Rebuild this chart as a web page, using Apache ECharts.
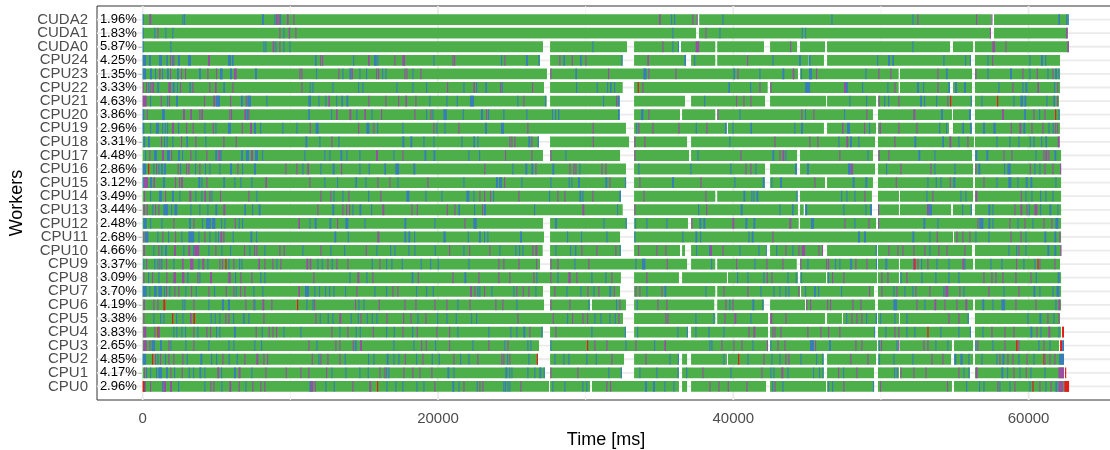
<!DOCTYPE html>
<html><head><meta charset="utf-8">
<script src="https://cdn.jsdelivr.net/npm/echarts@6/dist/echarts.min.js"></script>
<style>html,body{margin:0;padding:0;background:#fff}#c{width:1110px;height:450px}</style>
</head><body><div id="c"></div>
<script>
const workers = ['CPU0','CPU1','CPU2','CPU3','CPU4','CPU5','CPU6','CPU7','CPU8','CPU9','CPU10','CPU11','CPU12','CPU13','CPU14','CPU15','CPU16','CPU17','CPU18','CPU19','CPU20','CPU21','CPU22','CPU23','CPU24','CUDA0','CUDA1','CUDA2'];
const idlePercent = [2.96,4.17,4.85,2.65,3.83,3.38,4.19,3.70,3.09,3.37,4.66,2.68,2.48,3.44,3.49,3.12,2.86,4.48,3.31,2.96,3.86,4.63,3.33,1.35,4.25,5.87,1.83,1.96];
const xTicks = [0,20000,40000,60000];
const xMinor = [10000,30000,50000];

// busy periods [start, end] in ms (green)
const cuda2Busy = [[0,37560],[37690,57500],[57660,62720]];
const cuda1Busy = [[0,37480],[37680,57440],[57660,62650]];
const cuda0Busy = [[0,27110],[27590,32800],[33280,36320],[36460,38780],[38910,42080],[42490,44320],[44520,46210],[46350,54680],[54880,56240],[56370,62740]];
const cpu24Busy = [[0,26910],[27590,32510],[33280,36800],[37140,38780],[38910,45110],[45200,46140],[46350,56100],[56370,62130]];
const cpu23Busy = [[0,27380],[27590,44380],[44520,51200],[51290,56170],[56370,62130]];
const cpu22Busy = [[0,27180],[27590,32510],[33280,42330],[42490,51200],[51290,54680],[54880,56170],[56370,62130]];
const cpu21Busy = [[0,27360],[27590,32310],[33280,36730],[37140,42150],[42490,46280],[46350,49670],[49800,56170],[56370,62060]];
const cpu20Busy = [[0,32310],[33280,36390],[36530,38780],[38910,49460],[49800,54810],[54880,56100],[56370,62130]];
const cpu19Busy = [[0,32730],[33280,39550],[39640,46140],[46350,49670],[49800,54610],[54880,56170],[56370,62130]];
const cpu18Busy = [[0,26840],[27590,32940],[33280,36870],[37140,49600],[49800,56300],[56370,62100]];
const cpu17Busy = [[0,27110],[27590,32330],[33280,37000],[37140,44320],[44520,49460],[49800,56170],[56370,62200]];
const cpu16Busy = [[0,32730],[33280,42150],[42490,44320],[44520,49600],[49800,56240],[56370,62200]];
const cpu15Busy = [[0,32730],[33280,42130],[42490,46210],[46350,49460],[49800,56240],[56370,62200]];
const cpu14Busy = [[0,32390],[33280,38780],[38910,44360],[44520,49390],[49800,51220],[51290,56240],[56370,62200]];
const cpu13Busy = [[0,32510],[33280,44380],[44520,44770],[44860,49390],[49800,51220],[51290,54750],[54880,56170],[56370,62200]];
const cpu12Busy = [[0,27110],[27590,32800],[33280,36930],[37140,44430],[44520,49670],[49800,62200]];
const cpu11Busy = [[0,27180],[27590,32330],[33280,54880],[54950,62200]];
const cpu10Busy = [[0,27090],[27590,32390],[33280,36390],[36530,36730],[37140,42260],[42490,46080],[46350,49730],[49800,56170],[56370,62200]];
const cpu9Busy = [[0,26910],[27590,36870],[37140,38780],[38910,44300],[44520,49730],[49800,51220],[51290,56240],[56370,62130]];
const cpu8Busy = [[0,32390],[33280,36320],[36530,39570],[39640,44380],[44520,46280],[46350,49730],[49800,51220],[51290,62200]];
const cpu7Busy = [[0,27110],[27590,32330],[33280,38780],[38910,44520],[44590,49530],[49800,62200]];
const cpu6Busy = [[0,27180],[27590,30300],[30430,32730],[33280,38710],[38910,42080],[42490,44860],[44930,49600],[49800,56240],[56370,62200]];
const cpu5Busy = [[0,32530],[33280,38780],[38910,42350],[42490,46210],[46350,47360],[47430,49730],[49800,51220],[51290,55960],[56370,62130]];
const cpu4Busy = [[0,27110],[27590,32730],[33280,36930],[37140,42350],[42490,49600],[49800,56100],[56370,62200]];
const cpu3Busy = [[0,26840],[27590,42350],[42490,49730],[49800,51220],[51290,54810],[54950,56240],[56370,62060]];
const cpu2Busy = [[0,26770],[27590,32600],[33280,36320],[36530,36870],[37140,39570],[39640,46140],[46350,49670],[49800,54750],[54950,56240],[56370,62400]];
const cpu1Busy = [[0,27250],[27590,32460],[33280,36320],[36530,46140],[46350,49530],[49800,51220],[51290,56030],[56370,62400]];
const cpu0Busy = [[0,27520],[27590,30300],[30430,36320],[36530,36870],[37140,42220],[42490,46280],[46350,49530],[49800,54810],[54950,62740]];

// other tasks [start, duration, kind] kind: b=blue, p=purple, r=red
const cuda2Tasks = [[0,75,'b'],[449,130,'p'],[2685,75,'b'],[2797,75,'b'],[8081,130,'b'],[8916,75,'b'],[9030,75,'p'],[9120,75,'p'],[9210,75,'p'],[9300,75,'b'],[9775,110,'p'],[10204,75,'p'],[34971,110,'p'],[35784,75,'b'],[35987,75,'b'],[37229,75,'p'],[37522,75,'p'],[39261,75,'b'],[46642,75,'b'],[52128,75,'b'],[52467,75,'p'],[56441,75,'p'],[57480,75,'p'],[62018,110,'b'],[62538,75,'b'],[62640,75,'b']];
const cuda1Tasks = [[0,75,'b'],[788,75,'b'],[991,75,'p'],[1533,75,'b'],[2007,75,'b'],[9255,75,'p'],[9526,75,'b'],[9888,100,'p'],[10339,75,'p'],[35874,75,'b'],[38110,75,'p'],[39058,75,'b'],[44632,75,'b'],[44858,75,'b'],[57380,75,'p'],[62538,110,'p']];
const cuda0Tasks = [[0,75,'b'],[1872,75,'b'],[8172,75,'b'],[8307,75,'b'],[8804,110,'p'],[8984,75,'b'],[9255,75,'p'],[9526,75,'b'],[9933,75,'b'],[30455,75,'b'],[35197,75,'p'],[35874,75,'b'],[36250,75,'b'],[37455,230,'p'],[43845,75,'p'],[52128,75,'b'],[57547,180,'p'],[58428,75,'p'],[62628,110,'p']];
const cpu24Tasks = [[0,230,'b'],[427,130,'b'],[1104,200,'b'],[1601,110,'b'],[1849,75,'p'],[1985,75,'b'],[2075,75,'p'],[2391,130,'b'],[3069,200,'b'],[4423,130,'p'],[5778,200,'b'],[6049,110,'b'],[11671,110,'b'],[12010,75,'p'],[12146,75,'p'],[14246,75,'b'],[15262,110,'p'],[15668,180,'b'],[15894,75,'b'],[17046,75,'p'],[17588,180,'p'],[19687,75,'b'],[20974,75,'p'],[21087,75,'p'],[24268,75,'b'],[24494,75,'p'],[25961,130,'b'],[26800,90,'b'],[28219,75,'p'],[28490,110,'b'],[29055,75,'p'],[29619,110,'b'],[29980,75,'p'],[32420,75,'b'],[34181,110,'p'],[36687,110,'b'],[37342,75,'b'],[40932,75,'p'],[42648,75,'b'],[44455,130,'b'],[45129,110,'b'],[49735,75,'b'],[50480,130,'b'],[50774,110,'b'],[54228,75,'b'],[55696,75,'b'],[56020,75,'b'],[57209,75,'b'],[57525,75,'p'],[60054,75,'b'],[60844,130,'b'],[61115,75,'b']];
const cpu23Tasks = [[0,230,'b'],[494,130,'b'],[833,75,'b'],[1104,110,'p'],[1307,75,'b'],[1646,130,'b'],[1849,75,'p'],[2323,130,'b'],[2594,75,'p'],[2865,75,'p'],[3814,130,'b'],[4378,75,'p'],[4965,75,'p'],[5236,180,'b'],[5913,130,'b'],[6184,180,'p'],[7607,130,'b'],[10610,75,'p'],[10746,75,'p'],[11739,75,'b'],[13252,75,'p'],[13523,75,'b'],[13997,130,'b'],[14133,110,'p'],[14675,75,'b'],[15126,75,'b'],[15804,75,'p'],[15939,75,'p'],[16210,75,'b'],[16436,75,'b'],[17723,75,'p'],[17858,75,'p'],[18265,75,'b'],[18807,75,'p'],[27610,75,'p'],[29303,110,'b'],[31516,75,'p'],[33910,220,'b'],[34248,75,'p'],[36077,75,'p'],[40006,110,'b'],[40277,75,'p'],[41767,75,'b'],[43325,130,'b'],[44025,110,'p'],[44589,75,'b'],[45129,200,'b'],[45603,75,'p'],[48945,75,'b'],[49825,75,'p'],[50638,75,'p'],[53822,75,'p'],[54409,110,'b'],[56396,75,'p'],[57209,75,'b'],[58744,130,'b'],[59580,75,'p'],[60054,75,'b'],[60551,75,'p'],[61274,75,'b'],[61613,75,'p'],[61793,130,'b'],[62018,75,'b']];
const cpu22Tasks = [[0,75,'p'],[223,75,'p'],[382,75,'b'],[517,75,'p'],[652,110,'p'],[991,110,'b'],[1736,180,'p'],[2030,130,'b'],[2323,75,'b'],[2527,75,'p'],[3159,110,'b'],[3362,75,'p'],[4514,75,'p'],[4898,110,'p'],[5462,110,'b'],[6072,75,'p'],[10746,75,'p'],[11310,75,'b'],[11491,75,'b'],[12846,75,'b'],[14585,75,'b'],[14878,75,'b'],[17182,75,'b'],[18265,75,'b'],[19191,75,'b'],[20614,75,'p'],[21720,75,'b'],[22397,110,'p'],[22578,75,'b'],[23207,110,'b'],[24200,75,'p'],[24313,75,'b'],[26368,75,'p'],[29348,75,'b'],[30748,75,'b'],[31448,75,'b'],[31652,110,'b'],[31923,75,'b'],[33526,80,'r'],[33842,75,'p'],[39668,110,'b'],[41135,75,'b'],[41767,75,'p'],[42512,75,'p'],[44861,340,'b'],[47500,130,'p'],[47635,130,'b'],[48719,75,'b'],[50435,75,'b'],[50909,75,'p'],[52444,130,'b'],[52851,75,'b'],[53822,75,'p'],[54560,110,'b'],[55019,130,'b'],[55628,130,'b'],[57954,75,'b'],[58902,75,'p'],[59580,75,'b'],[59783,130,'b'],[60596,110,'p'],[61725,75,'b'],[61928,75,'p']];
const cpu21Tasks = [[0,270,'p'],[494,75,'b'],[1217,75,'p'],[1646,75,'b'],[1781,75,'p'],[2256,130,'b'],[4152,75,'p'],[4785,130,'p'],[4965,270,'b'],[5913,75,'p'],[6658,130,'b'],[6975,75,'p'],[7088,250,'b'],[8375,75,'b'],[11220,180,'b'],[11897,75,'b'],[12371,75,'b'],[12575,110,'p'],[13094,75,'b'],[13455,110,'b'],[13794,130,'b'],[15284,75,'p'],[16436,75,'p'],[17294,75,'p'],[17791,110,'p'],[18468,75,'p'],[19416,75,'b'],[20568,75,'b'],[21268,75,'b'],[22168,270,'b'],[25374,75,'b'],[25781,75,'p'],[27250,75,'b'],[31177,75,'b'],[32058,75,'p'],[32171,130,'b'],[38019,75,'b'],[40187,75,'p'],[40684,75,'p'],[41158,75,'p'],[47861,75,'b'],[48990,75,'b'],[49848,75,'p'],[50209,75,'b'],[50480,75,'b'],[51180,75,'p'],[52648,130,'b'],[52919,75,'b'],[53732,75,'b'],[54499,75,'p'],[54680,80,'r'],[56080,75,'b'],[56802,75,'b'],[57863,80,'r'],[58970,75,'b'],[59444,180,'b'],[59715,130,'b'],[61206,75,'b'],[61680,110,'b'],[61928,75,'p']];
const cpu20Tasks = [[0,110,'b'],[269,75,'p'],[1307,200,'b'],[2730,130,'p'],[3227,110,'p'],[3836,75,'p'],[3972,110,'p'],[5868,75,'p'],[5981,75,'p'],[6884,110,'p'],[7020,130,'b'],[7156,75,'p'],[11220,110,'b'],[12755,75,'b'],[13094,110,'p'],[13997,130,'p'],[14471,75,'b'],[15013,110,'p'],[15487,75,'b'],[16142,75,'p'],[18400,75,'p'],[19191,75,'b'],[19484,75,'p'],[19620,75,'b'],[20365,230,'b'],[21675,75,'b'],[22913,130,'b'],[23252,75,'p'],[23387,75,'b'],[24426,75,'b'],[25984,75,'b'],[27723,75,'b'],[27926,75,'b'],[28129,90,'b'],[32194,110,'b'],[33752,160,'b'],[34248,75,'p'],[38922,75,'p'],[40412,75,'b'],[44612,75,'p'],[44858,75,'b'],[45422,75,'p'],[47500,75,'b'],[49012,75,'p'],[52196,130,'p'],[54070,130,'b'],[55967,130,'b'],[58202,130,'p'],[59693,130,'b'],[60325,75,'p'],[60708,75,'b'],[61070,75,'p'],[61793,80,'r'],[62018,75,'b']];
const cpu19Tasks = [[0,110,'b'],[494,75,'b'],[901,200,'b'],[1307,75,'b'],[1488,75,'b'],[1646,75,'b'],[1985,130,'p'],[2391,75,'b'],[2933,75,'p'],[3385,75,'p'],[4175,75,'b'],[4740,75,'p'],[4920,75,'b'],[5778,200,'b'],[6703,75,'p'],[7268,130,'p'],[7539,130,'b'],[7946,75,'b'],[9458,75,'b'],[10407,75,'b'],[11310,75,'p'],[11717,200,'b'],[14585,75,'p'],[15149,200,'b'],[15623,75,'p'],[15871,75,'b'],[17587,75,'b'],[19687,75,'p'],[19890,75,'b'],[20432,75,'b'],[21381,75,'p'],[23184,130,'b'],[24268,200,'b'],[26052,75,'p'],[30477,75,'p'],[33413,75,'b'],[33571,75,'p'],[34519,75,'p'],[36280,75,'p'],[37454,75,'b'],[38177,75,'p'],[39442,110,'b'],[39938,75,'b'],[41157,110,'b'],[44126,75,'b'],[44589,130,'b'],[47364,90,'p'],[47703,200,'b'],[48855,75,'p'],[49193,75,'b'],[49893,110,'p'],[51180,75,'p'],[52399,75,'p'],[53935,75,'b'],[54409,75,'b'],[55515,110,'b'],[56035,110,'b'],[56915,130,'b'],[57615,160,'b'],[58789,75,'p'],[59376,130,'p'],[59647,130,'b'],[60189,75,'p'],[60934,75,'p'],[61341,75,'b'],[61634,75,'b'],[61793,75,'p'],[61928,75,'p']];
const cpu18Tasks = [[40,130,'b'],[359,130,'b'],[1240,75,'p'],[1443,75,'b'],[1623,75,'b'],[2007,75,'b'],[2594,75,'p'],[2956,110,'b'],[3565,75,'p'],[4243,75,'b'],[5462,75,'p'],[6297,75,'p'],[11017,130,'b'],[11965,75,'b'],[12778,75,'p'],[13252,75,'b'],[17588,130,'b'],[18130,130,'b'],[19010,75,'b'],[19687,75,'b'],[21584,75,'b'],[22397,110,'b'],[22668,75,'b'],[24832,75,'p'],[24968,75,'p'],[25171,75,'p'],[26120,130,'b'],[26323,75,'p'],[26752,90,'b'],[30477,75,'p'],[33300,75,'p'],[33977,75,'p'],[39735,75,'b'],[42783,75,'p'],[45151,75,'p'],[45693,75,'p'],[47116,75,'b'],[47658,130,'p'],[47906,130,'b'],[48471,75,'b'],[50909,75,'p'],[52264,130,'b'],[54160,110,'b'],[54635,130,'p'],[55244,75,'b'],[55854,75,'p'],[57818,75,'b'],[58699,75,'b'],[59308,75,'b'],[60076,75,'b'],[60325,75,'b'],[60844,75,'b'],[61138,110,'b'],[61974,130,'p']];
const cpu17Tasks = [[156,75,'b'],[449,75,'p'],[765,200,'b'],[1307,130,'p'],[1646,200,'b'],[1917,75,'p'],[2391,130,'b'],[2662,75,'b'],[3227,75,'p'],[3565,75,'b'],[4310,75,'p'],[4920,130,'b'],[5123,130,'p'],[5259,90,'b'],[6658,130,'b'],[6997,200,'b'],[7336,130,'p'],[7607,200,'b'],[8081,75,'b'],[10949,75,'b'],[12303,75,'b'],[12642,75,'b'],[13387,130,'b'],[13794,75,'b'],[14675,75,'b'],[15804,130,'p'],[16978,75,'b'],[17588,75,'p'],[19078,130,'b'],[19687,130,'b'],[22058,75,'b'],[22778,75,'b'],[24539,75,'p'],[26323,75,'p'],[27610,75,'p'],[28626,75,'b'],[33300,75,'p'],[37568,75,'b'],[40480,75,'p'],[42648,130,'b'],[43122,75,'p'],[43325,130,'p'],[43528,75,'b'],[47183,75,'p'],[49080,75,'b'],[49848,75,'p'],[50503,75,'p'],[52535,130,'b'],[53619,75,'b'],[56396,130,'b'],[57141,130,'b'],[58293,75,'p'],[58834,75,'p'],[60460,75,'b'],[61002,75,'p'],[61138,130,'p'],[61341,75,'p'],[61747,130,'b']];
const cpu16Tasks = [[0,230,'b'],[359,80,'r'],[720,75,'b'],[901,75,'p'],[1059,75,'b'],[1240,130,'b'],[1443,130,'b'],[2369,75,'p'],[2527,75,'b'],[2933,75,'p'],[3091,75,'p'],[3543,75,'b'],[3836,75,'p'],[4220,75,'b'],[4514,75,'b'],[5191,75,'b'],[5913,130,'b'],[6410,75,'p'],[6726,75,'b'],[7539,130,'b'],[9662,75,'p'],[10407,75,'p'],[10813,75,'b'],[11152,110,'p'],[12032,75,'b'],[12868,130,'b'],[13433,75,'p'],[14675,75,'b'],[15307,75,'b'],[16368,110,'b'],[17113,250,'b'],[18333,130,'b'],[23139,75,'p'],[25036,75,'b'],[25916,130,'b'],[26323,130,'b'],[26594,75,'p'],[27745,130,'b'],[28897,75,'p'],[29168,75,'p'],[29303,75,'p'],[29574,75,'b'],[31064,75,'p'],[31335,75,'p'],[33571,75,'b'],[37093,75,'b'],[39803,75,'b'],[40819,75,'p'],[41158,75,'p'],[41496,75,'b'],[44183,130,'b'],[44993,130,'b'],[47771,180,'b'],[47951,160,'p'],[50345,75,'b'],[51316,75,'p'],[53348,75,'p'],[53619,75,'b'],[54974,75,'b'],[56396,75,'p'],[56599,130,'b'],[58338,75,'b'],[58564,230,'b'],[60076,75,'p'],[60393,75,'b'],[60731,75,'b'],[61070,75,'p'],[61612,75,'p'],[62131,75,'p']];
const cpu15Tasks = [[0,75,'b'],[88,270,'p'],[494,130,'b'],[720,110,'p'],[1375,130,'b'],[2188,75,'p'],[2459,75,'p'],[2594,130,'p'],[3769,130,'b'],[3972,75,'b'],[4310,75,'p'],[5462,110,'b'],[6207,75,'b'],[6613,75,'b'],[7358,75,'b'],[8307,110,'p'],[11288,75,'p'],[12303,75,'b'],[13161,75,'b'],[14404,110,'b'],[15081,75,'b'],[15894,75,'p'],[16707,75,'p'],[17249,75,'b'],[19281,75,'p'],[21720,75,'b'],[23929,130,'b'],[24132,200,'b'],[24471,75,'p'],[25645,75,'b'],[27610,75,'b'],[28852,75,'b'],[29032,75,'b'],[29484,130,'b'],[31335,130,'b'],[31606,75,'p'],[32667,75,'b'],[33639,75,'p'],[35851,130,'b'],[37771,75,'p'],[40074,75,'b'],[41993,130,'b'],[42580,75,'b'],[43167,130,'b'],[45490,75,'p'],[48087,130,'b'],[48945,130,'b'],[51000,75,'p'],[53145,75,'b'],[53709,75,'b'],[54025,75,'b'],[54657,75,'p'],[54906,130,'b'],[56938,75,'p'],[57818,75,'b'],[58631,200,'b'],[59241,75,'b'],[59806,130,'b'],[60122,130,'b'],[61815,75,'b']];
const cpu14Tasks = [[88,75,'p'],[494,75,'b'],[1104,200,'b'],[1510,75,'p'],[1985,130,'b'],[2481,75,'b'],[3159,130,'p'],[3565,75,'b'],[3972,75,'b'],[4175,110,'p'],[4514,75,'p'],[4649,75,'b'],[5236,75,'p'],[7156,75,'p'],[7697,75,'b'],[12032,75,'p'],[12710,75,'p'],[12913,75,'b'],[13523,75,'b'],[13930,75,'p'],[15262,75,'b'],[16097,75,'p'],[17858,200,'b'],[19145,75,'b'],[20229,75,'b'],[21923,200,'b'],[22397,75,'b'],[22803,75,'p'],[23116,75,'p'],[23523,75,'p'],[23726,75,'b'],[25442,75,'p'],[27519,75,'b'],[28083,75,'p'],[28558,75,'p'],[29574,130,'b'],[29777,75,'b'],[30455,75,'p'],[32284,110,'b'],[33910,75,'p'],[38110,75,'p'],[40684,130,'b'],[41225,75,'b'],[41361,75,'b'],[41564,130,'b'],[44280,75,'b'],[47296,75,'b'],[47658,75,'b'],[48199,75,'b'],[48877,75,'p'],[53077,75,'b'],[53483,75,'p'],[55380,75,'b'],[55718,75,'b'],[56396,130,'p'],[59466,75,'p'],[59783,75,'b'],[60189,75,'b'],[60776,75,'b'],[61138,75,'b'],[61612,75,'b']];
const cpu13Tasks = [[43,110,'p'],[269,75,'p'],[652,75,'b'],[833,75,'p'],[1059,75,'p'],[1398,320,'b'],[1917,75,'b'],[2143,200,'b'],[3227,75,'b'],[3836,75,'b'],[4378,75,'b'],[4920,130,'b'],[5462,130,'p'],[6884,110,'b'],[7404,75,'b'],[7855,130,'b'],[11829,75,'p'],[12846,130,'b'],[13523,75,'p'],[13772,75,'p'],[13975,75,'p'],[14201,75,'b'],[14675,130,'b'],[15465,75,'b'],[16233,130,'p'],[18197,75,'p'],[18558,75,'p'],[20591,75,'p'],[21110,75,'p'],[21381,110,'b'],[22439,75,'b'],[22981,75,'p'],[23116,130,'b'],[26503,75,'b'],[29777,130,'p'],[32126,75,'b'],[33300,75,'p'],[37613,75,'b'],[38155,75,'p'],[40503,130,'b'],[43122,75,'b'],[43980,110,'b'],[44870,130,'b'],[47454,75,'b'],[48945,75,'b'],[49261,130,'b'],[49803,75,'p'],[53122,130,'p'],[53257,200,'b'],[55493,75,'b'],[56080,75,'b'],[57277,130,'b'],[57548,75,'b'],[59038,75,'p'],[59444,130,'p'],[59851,75,'p'],[60009,75,'b'],[60393,200,'p'],[60776,75,'b'],[61409,130,'b'],[61951,75,'b']];
const cpu12Tasks = [[43,230,'b'],[494,75,'b'],[1262,75,'b'],[2075,75,'p'],[3136,130,'b'],[3430,75,'p'],[4017,75,'b'],[4288,330,'b'],[4694,230,'b'],[5304,75,'b'],[5530,75,'b'],[6230,75,'p'],[6500,75,'b'],[6726,75,'b'],[10543,110,'p'],[11288,75,'b'],[11649,130,'b'],[12642,130,'b'],[13161,75,'p'],[13726,200,'b'],[15013,75,'b'],[17723,130,'b'],[19755,75,'b'],[21787,75,'p'],[22394,230,'b'],[27926,130,'b'],[31200,75,'b'],[32700,75,'b'],[33345,75,'b'],[34113,75,'b'],[35468,75,'b'],[37161,75,'p'],[37703,130,'b'],[37974,130,'b'],[39938,130,'p'],[40819,130,'b'],[41361,130,'b'],[43799,130,'p'],[45264,200,'b'],[47522,75,'p'],[48199,75,'b'],[49148,75,'p'],[49803,75,'p'],[52874,130,'b'],[53822,75,'b'],[56531,75,'p'],[56667,270,'b'],[57277,130,'b'],[57548,75,'b'],[58699,75,'p'],[59241,75,'b'],[59715,75,'p'],[60257,75,'b'],[61002,75,'p'],[61544,75,'p'],[61815,200,'b']];
const cpu11Tasks = [[43,75,'p'],[156,230,'b'],[991,75,'b'],[1330,75,'p'],[1714,75,'b'],[2188,75,'p'],[2617,75,'b'],[3091,400,'b'],[3769,75,'b'],[4175,75,'p'],[4514,75,'b'],[4920,75,'b'],[5101,75,'b'],[5259,130,'p'],[5462,75,'p'],[6094,75,'b'],[7291,130,'b'],[7675,75,'b'],[12981,130,'b'],[13884,75,'b'],[15894,130,'p'],[17723,130,'b'],[17994,130,'b'],[18378,75,'b'],[20365,160,'b'],[22013,75,'b'],[22778,130,'b'],[23116,75,'b'],[23342,75,'b'],[25555,130,'b'],[28739,75,'b'],[29687,75,'b'],[31403,75,'b'],[33300,75,'b'],[36551,75,'b'],[37432,130,'b'],[37748,75,'b'],[41022,75,'b'],[41248,130,'b'],[42648,75,'p'],[48448,130,'b'],[48855,130,'b'],[52128,130,'b'],[53280,75,'b'],[53777,75,'p'],[55109,75,'p'],[55515,75,'p'],[55989,75,'p'],[56396,75,'b'],[57277,75,'b'],[58767,75,'p'],[59444,75,'p'],[59783,75,'b'],[61070,130,'b'],[61747,130,'b'],[62086,75,'p']];
const cpu10Tasks = [[43,110,'p'],[720,75,'b'],[1059,75,'p'],[1262,75,'b'],[1510,130,'b'],[2120,130,'p'],[2752,75,'b'],[3091,130,'p'],[3407,75,'b'],[3497,330,'p'],[4446,75,'b'],[4920,75,'p'],[5327,75,'b'],[5913,75,'b'],[6861,75,'p'],[7223,75,'b'],[7539,75,'p'],[7697,75,'p'],[8239,75,'b'],[9255,75,'p'],[9549,75,'p'],[10813,75,'b'],[12032,75,'p'],[12710,75,'b'],[13636,75,'b'],[15104,75,'p'],[15826,75,'b'],[16752,75,'b'],[17046,75,'b'],[17994,75,'b'],[18400,75,'b'],[19777,75,'b'],[20749,75,'p'],[21720,75,'b'],[22104,75,'p'],[23478,75,'p'],[24155,75,'b'],[25239,75,'b'],[25487,75,'b'],[25713,75,'b'],[26390,75,'p'],[26594,130,'p'],[27948,75,'b'],[28942,75,'b'],[29281,90,'b'],[29710,75,'p'],[30726,75,'p'],[32013,75,'p'],[32300,75,'b'],[33548,75,'p'],[34790,75,'p'],[35400,75,'p'],[37477,75,'b'],[38358,75,'b'],[38426,130,'p'],[39261,75,'p'],[40412,75,'b'],[41699,75,'b'],[42200,60,'b'],[42896,75,'b'],[43528,75,'p'],[44002,75,'b'],[44409,75,'p'],[44632,230,'p'],[45761,75,'p'],[46000,75,'p'],[49640,75,'b'],[50503,75,'p'],[51113,75,'p'],[51452,75,'p'],[52196,75,'p'],[52941,75,'p'],[53280,75,'b'],[53890,75,'p'],[54432,75,'p'],[55651,75,'p'],[58631,75,'b'],[59150,75,'b'],[59308,75,'p'],[59783,75,'b'],[61273,130,'b'],[61747,130,'b'],[62154,75,'p']];
const cpu9Tasks = [[43,75,'b'],[223,75,'p'],[788,75,'b'],[991,75,'b'],[1127,75,'p'],[1262,75,'b'],[1578,75,'p'],[2075,75,'b'],[2662,110,'p'],[3204,230,'p'],[3769,75,'b'],[4039,130,'p'],[4378,75,'b'],[5191,75,'p'],[5372,75,'p'],[5598,80,'r'],[5801,75,'b'],[6139,75,'p'],[6523,75,'b'],[6681,75,'b'],[7833,110,'p'],[8239,75,'p'],[8781,75,'p'],[9052,75,'b'],[9323,75,'p'],[11084,130,'p'],[11310,110,'p'],[11829,75,'b'],[12123,75,'b'],[12507,75,'p'],[12800,75,'b'],[13116,75,'p'],[13862,75,'p'],[15510,75,'b'],[16029,75,'p'],[16481,75,'b'],[16842,75,'b'],[17543,75,'b'],[18829,75,'b'],[19461,75,'b'],[19981,75,'b'],[22058,75,'b'],[24087,75,'p'],[24426,75,'p'],[25442,75,'p'],[26639,75,'p'],[27610,75,'p'],[28084,75,'p'],[29236,75,'b'],[30184,75,'p'],[33368,75,'b'],[33820,230,'b'],[35490,75,'p'],[38493,75,'b'],[40187,75,'p'],[41428,75,'b'],[42241,75,'p'],[43325,75,'p'],[44540,75,'p'],[45016,75,'b'],[46280,75,'p'],[46416,75,'p'],[46890,75,'b'],[47183,75,'b'],[47906,130,'b'],[48267,75,'p'],[49012,75,'p'],[49660,75,'b'],[50299,130,'b'],[52173,160,'p'],[52264,80,'r'],[52467,75,'p'],[52715,75,'b'],[53145,75,'p'],[53754,75,'b'],[54567,75,'b'],[55515,130,'p'],[55651,75,'b'],[57412,75,'b'],[58157,75,'b'],[59150,75,'p'],[59647,75,'b'],[60393,75,'b'],[60596,80,'r'],[60731,75,'p'],[61747,75,'p']];
const cpu8Tasks = [[43,75,'p'],[359,75,'b'],[630,75,'p'],[1059,75,'b'],[1601,75,'p'],[2075,180,'p'],[2662,160,'p'],[3024,75,'b'],[3701,75,'p'],[3836,75,'b'],[4559,130,'p'],[5801,160,'p'],[6252,75,'b'],[6613,75,'p'],[7358,75,'p'],[7968,75,'b'],[8239,75,'b'],[11558,75,'p'],[13997,75,'b'],[14539,130,'p'],[15149,75,'b'],[15555,75,'p'],[18220,110,'b'],[18626,75,'p'],[20975,75,'p'],[21787,130,'b'],[22736,75,'p'],[24087,75,'p'],[24832,75,'p'],[26458,75,'p'],[26661,75,'b'],[27610,75,'p'],[28084,75,'b'],[28829,160,'p'],[29371,75,'p'],[30387,75,'b'],[31335,75,'b'],[31742,75,'p'],[34113,75,'p'],[40254,75,'b'],[40954,75,'b'],[42038,75,'b'],[42264,75,'p'],[42580,75,'p'],[43664,75,'b'],[44229,75,'b'],[44587,75,'b'],[46416,75,'b'],[46687,75,'p'],[47454,75,'p'],[50029,75,'p'],[50435,75,'p'],[51330,75,'b'],[51722,75,'p'],[52738,75,'b'],[53686,75,'b'],[54567,75,'b'],[55244,75,'b'],[56938,75,'p'],[57480,75,'p'],[57751,75,'p'],[58225,75,'p'],[59105,75,'p'],[60122,75,'p'],[60483,75,'b'],[61973,130,'b']];
const cpu7Tasks = [[0,270,'b'],[449,75,'b'],[765,180,'b'],[1059,250,'b'],[1443,75,'b'],[1578,75,'p'],[1804,75,'b'],[2143,75,'p'],[2414,75,'p'],[2888,75,'b'],[3272,75,'p'],[3588,75,'b'],[4446,75,'p'],[4830,75,'b'],[5620,75,'p'],[6139,75,'p'],[6297,75,'b'],[6591,75,'p'],[6884,75,'p'],[7494,75,'b'],[8104,75,'b'],[10543,110,'p'],[10994,270,'b'],[11626,75,'b'],[11942,75,'b'],[12349,75,'b'],[12620,75,'b'],[12913,75,'b'],[13704,75,'b'],[14471,75,'p'],[15691,75,'b'],[16481,75,'b'],[16910,75,'p'],[17249,75,'p'],[18513,75,'b'],[19191,75,'b'],[19642,75,'b'],[22171,130,'p'],[22465,75,'p'],[22665,75,'b'],[22800,75,'b'],[23116,75,'p'],[23613,75,'b'],[25103,75,'b'],[25306,75,'p'],[25736,75,'p'],[26120,75,'p'],[26594,75,'b'],[27881,75,'p'],[28694,75,'b'],[29642,75,'b'],[30116,75,'p'],[30523,75,'b'],[30861,75,'p'],[31606,130,'b'],[31900,75,'p'],[33368,75,'p'],[33639,75,'p'],[34113,75,'b'],[35129,75,'p'],[35332,130,'b'],[38109,75,'b'],[39329,75,'p'],[40954,75,'p'],[41835,75,'b'],[42716,75,'b'],[43122,75,'b'],[43528,75,'b'],[43732,75,'b'],[44400,75,'p'],[44858,75,'b'],[45467,130,'b'],[45738,75,'b'],[47296,75,'b'],[49193,75,'p'],[50029,75,'p'],[50841,75,'b'],[51045,75,'p'],[51587,75,'b'],[52128,75,'b'],[52331,75,'p'],[53280,75,'p'],[54228,75,'b'],[54364,200,'p'],[55312,75,'p'],[55583,75,'b'],[57277,75,'p'],[58293,75,'b'],[59308,75,'p'],[60325,130,'b'],[60731,75,'b'],[61612,75,'b'],[61883,200,'b']];
const cpu6Tasks = [[43,110,'p'],[720,75,'p'],[991,75,'p'],[1398,130,'r'],[2685,75,'b'],[2820,75,'b'],[3430,75,'p'],[4446,75,'b'],[5372,130,'b'],[5778,130,'b'],[6952,75,'p'],[7494,75,'p'],[7562,75,'b'],[8104,130,'p'],[8713,75,'p'],[10452,80,'r'],[11084,75,'b'],[11491,75,'b'],[11604,75,'p'],[14381,75,'p'],[14607,75,'b'],[14946,75,'b'],[15984,75,'p'],[17723,75,'p'],[18468,75,'p'],[19755,75,'p'],[20568,75,'p'],[21313,75,'b'],[22126,75,'p'],[23884,75,'p'],[24358,75,'p'],[25307,75,'b'],[27610,75,'p'],[28897,75,'p'],[30184,75,'b'],[32058,75,'b'],[32284,75,'p'],[33458,75,'b'],[34858,75,'p'],[35468,75,'p'],[39464,75,'p'],[39735,75,'b'],[39938,75,'p'],[41293,130,'b'],[41948,75,'b'],[44940,75,'p'],[45196,75,'p'],[46348,75,'p'],[46551,75,'p'],[48064,75,'p'],[48606,75,'p'],[50841,250,'b'],[52399,75,'p'],[52941,75,'b'],[53619,130,'p'],[54296,75,'p'],[55109,75,'p'],[55718,130,'p'],[56870,130,'b'],[57548,75,'b'],[58157,250,'b'],[59105,75,'p'],[60460,75,'p'],[61815,75,'b'],[62018,130,'p']];
const cpu5Tasks = [[43,75,'p'],[720,75,'b'],[1172,75,'b'],[1398,75,'b'],[1985,80,'r'],[2256,75,'b'],[2685,75,'b'],[3204,110,'p'],[3430,110,'r'],[4604,75,'b'],[4875,75,'b'],[5191,75,'b'],[5598,75,'p'],[5801,75,'p'],[6117,75,'b'],[6794,110,'b'],[7156,75,'b'],[8172,75,'p'],[11694,75,'p'],[11988,75,'b'],[12529,75,'b'],[12846,75,'b'],[13320,130,'p'],[14088,75,'b'],[14562,75,'b'],[14743,75,'p'],[15172,75,'b'],[15510,75,'b'],[15826,75,'b'],[16504,75,'p'],[17633,75,'p'],[18130,75,'p'],[18603,75,'b'],[19145,75,'p'],[19935,75,'b'],[20568,75,'b'],[21200,75,'b'],[22239,75,'b'],[22574,75,'b'],[25374,75,'p'],[27768,75,'p'],[28739,75,'b'],[29077,75,'p'],[29777,75,'p'],[30093,75,'p'],[30590,75,'b'],[30997,75,'b'],[31606,75,'b'],[31968,75,'b'],[32216,75,'p'],[35400,75,'p'],[35535,75,'p'],[37432,75,'b'],[38650,75,'b'],[39396,75,'p'],[40074,130,'p'],[41158,75,'b'],[42513,130,'p'],[43528,75,'p'],[47635,75,'b'],[47996,75,'p'],[48335,75,'p'],[48674,75,'p'],[48990,75,'b'],[49640,90,'b'],[49938,75,'b'],[50910,75,'b'],[51722,75,'b'],[54567,75,'p'],[55244,75,'p'],[55870,75,'b'],[59919,75,'b'],[60731,130,'b'],[61273,75,'p'],[61680,75,'b'],[62018,75,'p']];
const cpu4Tasks = [[43,200,'p'],[788,75,'p'],[991,80,'r'],[1059,110,'p'],[2075,75,'b'],[2278,75,'b'],[2617,75,'b'],[2865,75,'b'],[3430,75,'p'],[3701,75,'b'],[4310,75,'p'],[4559,75,'p'],[4965,75,'b'],[5191,75,'b'],[6184,130,'b'],[7652,75,'p'],[8059,75,'b'],[8533,75,'p'],[8781,75,'p'],[9030,75,'p'],[9526,75,'b'],[10678,75,'b'],[12778,75,'p'],[13320,75,'b'],[13862,75,'p'],[14426,75,'b'],[14697,75,'b'],[15578,75,'p'],[16481,75,'b'],[17000,75,'b'],[17588,75,'p'],[18242,75,'b'],[18558,75,'p'],[19890,75,'p'],[20749,75,'p'],[21313,75,'b'],[23410,75,'b'],[24900,75,'b'],[25307,75,'b'],[25781,130,'b'],[26187,75,'p'],[27000,75,'b'],[27948,75,'p'],[30387,75,'b'],[32650,75,'b'],[33480,75,'b'],[36213,75,'b'],[36850,75,'b'],[37432,75,'b'],[38313,75,'b'],[39329,75,'b'],[41022,75,'p'],[41361,130,'p'],[42648,75,'p'],[42784,75,'p'],[43190,75,'p'],[45016,75,'p'],[45896,75,'p'],[46416,75,'p'],[47183,75,'p'],[49532,75,'b'],[50299,75,'b'],[50909,75,'p'],[51180,75,'p'],[51722,75,'b'],[52264,75,'b'],[53145,80,'r'],[54025,75,'b'],[55244,75,'b'],[56020,75,'b'],[56870,75,'b'],[57480,75,'p'],[58361,75,'p'],[58970,75,'p'],[60122,130,'b'],[60528,75,'p'],[60799,75,'b'],[61341,130,'p'],[62018,75,'b'],[62265,135,'r']];
const cpu3Tasks = [[43,230,'p'],[449,75,'p'],[607,230,'b'],[1172,130,'b'],[1736,75,'p'],[1872,75,'b'],[2888,75,'b'],[3430,75,'p'],[4446,75,'b'],[5801,75,'b'],[6139,75,'b'],[7562,75,'b'],[8013,75,'b'],[11220,75,'p'],[11762,75,'b'],[13049,75,'p'],[13320,75,'p'],[14223,75,'p'],[14359,130,'b'],[14720,130,'p'],[16978,75,'b'],[18333,75,'b'],[18852,75,'p'],[19168,75,'p'],[19800,75,'b'],[20749,75,'p'],[22329,75,'b'],[23410,75,'p'],[24494,75,'b'],[24697,75,'p'],[26052,75,'b'],[26255,75,'b'],[27610,75,'b'],[30093,80,'r'],[30590,75,'p'],[31403,75,'p'],[32690,75,'b'],[33368,75,'p'],[34632,75,'b'],[35332,110,'p'],[38380,75,'b'],[38516,75,'b'],[39193,75,'p'],[40006,75,'p'],[40548,75,'p'],[41293,75,'b'],[42280,75,'p'],[42512,75,'b'],[42986,75,'p'],[43461,75,'p'],[45196,270,'b'],[45535,75,'p'],[46483,130,'b'],[48267,75,'p'],[48674,75,'p'],[49870,75,'b'],[50006,75,'p'],[51045,75,'b'],[51180,75,'p'],[52874,75,'p'],[53145,75,'p'],[53686,75,'b'],[54499,75,'b'],[56396,75,'b'],[56531,75,'p'],[57548,75,'b'],[58361,75,'p'],[59150,100,'r'],[59308,75,'p'],[60663,75,'b'],[61002,75,'p'],[61409,75,'b'],[62131,134,'r'],[62265,135,'b']];
const cpu2Tasks = [[0,230,'b'],[630,80,'r'],[833,75,'p'],[991,75,'b'],[1172,75,'p'],[1510,75,'b'],[1736,75,'p'],[2075,75,'p'],[2685,75,'p'],[2978,75,'b'],[3904,130,'b'],[4627,75,'b'],[4965,75,'b'],[5394,75,'p'],[5823,75,'b'],[6365,75,'b'],[6884,75,'p'],[7697,130,'p'],[8172,75,'p'],[8420,75,'p'],[11446,75,'p'],[11897,75,'b'],[12032,75,'p'],[12507,75,'p'],[13320,75,'p'],[13681,75,'b'],[15262,75,'b'],[15623,75,'b'],[16526,130,'b'],[16978,75,'b'],[17316,75,'b'],[17746,75,'p'],[18513,75,'b'],[18942,75,'p'],[19575,75,'b'],[20049,75,'b'],[21042,75,'p'],[21494,75,'b'],[22058,75,'b'],[22665,75,'p'],[24290,75,'p'],[24426,75,'p'],[24674,75,'b'],[24832,75,'p'],[26120,75,'b'],[26690,80,'r'],[27881,75,'b'],[28490,75,'b'],[28829,75,'b'],[30048,75,'b'],[30680,75,'b'],[31742,75,'p'],[34045,75,'p'],[35671,75,'b'],[36240,75,'b'],[39329,75,'b'],[40322,80,'r'],[40954,75,'b'],[42038,75,'p'],[42580,75,'b'],[43122,75,'b'],[43528,75,'p'],[43732,75,'p'],[44544,75,'b'],[45603,75,'b'],[46009,75,'b'],[47928,75,'p'],[49080,75,'p'],[49870,75,'b'],[50841,75,'b'],[52128,75,'b'],[53415,75,'p'],[54160,75,'p'],[54974,130,'b'],[55380,160,'b'],[55922,75,'b'],[56802,75,'b'],[57818,75,'b'],[58022,75,'p'],[58225,130,'b'],[58564,75,'p'],[58902,75,'p'],[59308,75,'b'],[59851,75,'p'],[60325,75,'b'],[61002,80,'r'],[61070,75,'p'],[61409,75,'p'],[61747,75,'p'],[62063,337,'b']];
const cpu1Tasks = [[88,75,'p'],[223,75,'b'],[494,75,'b'],[901,75,'b'],[1059,250,'b'],[1578,130,'b'],[1872,75,'p'],[2120,75,'b'],[2640,75,'p'],[3114,75,'b'],[3407,75,'b'],[3836,130,'b'],[4175,75,'b'],[5056,130,'p'],[5304,75,'b'],[6184,130,'b'],[6500,130,'p'],[7358,75,'b'],[8307,75,'p'],[9684,75,'p'],[10678,75,'p'],[11220,75,'p'],[12417,75,'p'],[12778,75,'b'],[13726,75,'b'],[14675,75,'b'],[15239,75,'b'],[16029,75,'p'],[16368,75,'p'],[16481,75,'b'],[16639,75,'b'],[17655,75,'p'],[18265,75,'p'],[18739,75,'p'],[19552,75,'p'],[20636,130,'b'],[21042,75,'b'],[24561,130,'b'],[24810,75,'b'],[24968,75,'b'],[26052,75,'b'],[26526,75,'b'],[26865,130,'b'],[27150,75,'b'],[27610,75,'p'],[29439,75,'p'],[31538,75,'b'],[32380,75,'b'],[33639,75,'b'],[34790,75,'b'],[36220,75,'b'],[36800,75,'b'],[37906,75,'p'],[39803,75,'b'],[41903,75,'p'],[42513,75,'b'],[42716,75,'b'],[43257,130,'p'],[43664,75,'b'],[45400,75,'b'],[45806,75,'b'],[46030,75,'b'],[47093,75,'p'],[47432,75,'b'],[48335,75,'p'],[50886,75,'b'],[51067,75,'b'],[51316,75,'p'],[52196,75,'p'],[53009,75,'p'],[55244,75,'p'],[55583,75,'b'],[55922,75,'b'],[56418,130,'p'],[58157,130,'b'],[58541,75,'b'],[58970,75,'p'],[59376,75,'b'],[59806,75,'p'],[60122,75,'b'],[61070,75,'b'],[62018,380,'p'],[62469,80,'r']];
const cpu0Tasks = [[0,180,'r'],[133,75,'b'],[494,75,'p'],[1307,75,'b'],[1398,180,'p'],[1849,130,'p'],[2391,75,'b'],[4175,75,'b'],[4581,75,'p'],[4785,75,'p'],[5327,75,'b'],[5868,130,'p'],[6500,75,'p'],[6952,75,'b'],[7426,75,'p'],[7968,75,'p'],[8239,75,'p'],[11288,110,'b'],[11378,180,'p'],[11649,75,'p'],[12371,75,'b'],[12935,75,'b'],[14201,75,'p'],[15352,130,'p'],[15871,80,'r'],[16504,75,'b'],[17113,75,'b'],[17588,75,'b'],[18536,75,'b'],[19010,75,'b'],[19755,75,'p'],[20974,130,'b'],[21381,75,'b'],[21720,75,'p'],[22623,75,'b'],[22800,75,'p'],[23003,75,'p'],[24426,75,'b'],[24539,75,'b'],[24697,75,'b'],[24832,75,'b'],[25577,75,'p'],[27745,75,'b'],[28558,75,'b'],[29777,75,'b'],[30048,75,'b'],[31403,75,'p'],[31652,75,'p'],[34022,130,'b'],[34564,130,'b'],[35332,75,'b'],[35942,75,'b'],[38380,75,'p'],[38990,75,'p'],[39622,75,'p'],[40887,75,'p'],[42625,75,'b'],[42784,75,'p'],[43325,75,'b'],[46416,75,'b'],[46687,75,'b'],[47454,75,'p'],[49464,75,'b'],[49938,75,'p'],[54477,75,'p'],[55764,75,'b'],[56645,75,'b'],[56938,75,'b'],[57886,75,'p'],[58022,75,'b'],[58699,75,'b'],[59038,75,'p'],[60054,75,'b'],[60257,80,'r'],[60731,75,'p'],[61138,75,'b'],[61477,75,'p'],[61815,130,'b'],[62018,330,'p'],[62424,316,'r']];

const rowBusy = [cpu0Busy,cpu1Busy,cpu2Busy,cpu3Busy,cpu4Busy,cpu5Busy,cpu6Busy,cpu7Busy,cpu8Busy,cpu9Busy,cpu10Busy,cpu11Busy,cpu12Busy,cpu13Busy,cpu14Busy,cpu15Busy,cpu16Busy,cpu17Busy,cpu18Busy,cpu19Busy,cpu20Busy,cpu21Busy,cpu22Busy,cpu23Busy,cpu24Busy,cuda0Busy,cuda1Busy,cuda2Busy];
const rowTasks = [cpu0Tasks,cpu1Tasks,cpu2Tasks,cpu3Tasks,cpu4Tasks,cpu5Tasks,cpu6Tasks,cpu7Tasks,cpu8Tasks,cpu9Tasks,cpu10Tasks,cpu11Tasks,cpu12Tasks,cpu13Tasks,cpu14Tasks,cpu15Tasks,cpu16Tasks,cpu17Tasks,cpu18Tasks,cpu19Tasks,cpu20Tasks,cpu21Tasks,cpu22Tasks,cpu23Tasks,cpu24Tasks,cuda0Tasks,cuda1Tasks,cuda2Tasks];

const COLORS = {g:'#4DAF4A', b:'#377EB8', p:'#984EA3', r:'#E41A1C'};
const FONT = "'Liberation Sans', Arial, sans-serif";
const rowIdx = workers.map((w,i)=>i);
// tick/label positions include the two panel edges (-1 and 28), which are then hidden
const yTickValues = [-1].concat(rowIdx, [workers.length]);

const busyData = [];
rowBusy.forEach((segs,row)=>segs.forEach(s=>busyData.push([s[0],s[1],row])));
const kinds = ['b','p','r'];
const taskData = [];
rowTasks.forEach((ts,row)=>ts.forEach(t=>taskData.push([t[0],t[0]+t[1],row,kinds.indexOf(t[2])])));
const vGridData = xTicks.map(v=>[v,1]).concat(xMinor.map(v=>[v,0]));
const hGridData = rowIdx.map(r=>[r]);
const labelData = idlePercent.map((p,i)=>[i,p]);

function rectItem(api, color){
  const row = api.value(2);
  const a = api.coord([api.value(0), row]);
  const b = api.coord([api.value(1), row]);
  const h = api.size([0,1])[1]*0.8;
  return {type:'rect', shape:{x:a[0], y:a[1]-h/2, width:Math.max(b[0]-a[0],1), height:h}, style:{fill:color}};
}

const chart = echarts.init(document.getElementById('c'), null, {renderer:'canvas'});
chart.setOption({
  animation:false,
  backgroundColor:'#fff',
  textStyle:{fontFamily:FONT},
  grid:{left:97, top:6, width:1018, bottom:50, containLabel:false, outerBoundsMode:'none', show:true, borderColor:'#333333', borderWidth:1, backgroundColor:'#fff'},
  xAxis:{type:'value', min:-3095, max:65852,
    axisLine:{show:false},
    axisTick:{show:true, customValues:xTicks, length:4, lineStyle:{color:'#333333'}},
    axisLabel:{customValues:xTicks, formatter:v=>String(v), color:'#4D4D4D', fontSize:15, margin:11, fontFamily:FONT},
    splitLine:{show:false},
    name:'Time [ms]', nameLocation:'middle', nameGap:30, nameTextStyle:{fontSize:18, color:'#000', fontFamily:FONT}},
  yAxis:{type:'value', min:-1, max:28, interval:1,
    axisLine:{show:false},
    axisTick:{show:true, customValues:yTickValues, length:4, lineStyle:{color:'#333333'}},
    axisLabel:{customValues:yTickValues, showMinLabel:false, showMaxLabel:false, formatter:v=>workers[v]||'', color:'#4D4D4D', fontSize:15, margin:9, fontFamily:FONT},
    splitLine:{show:false},
    name:'Workers', nameLocation:'middle', nameGap:66, nameTextStyle:{fontSize:18, color:'#000', fontFamily:FONT}},
  series:[
    {type:'custom', z:1, silent:true, data:hGridData, encode:{y:0},
     renderItem:(params, api)=>{
       const r = api.value(0);
       const a = api.coord([-3095, r]), b = api.coord([65852, r]);
       return {type:'line', shape:{x1:a[0], y1:a[1], x2:b[0], y2:b[1]}, style:{stroke:'#EBEBEB', lineWidth:1.8}};
     }},
    {type:'custom', z:1, silent:true, data:vGridData, encode:{x:0},
     renderItem:(params, api)=>{
       const x = api.value(0), major = api.value(1);
       const a = api.coord([x,-1]), b = api.coord([x,28]);
       return {type:'line', shape:{x1:a[0], y1:a[1], x2:b[0], y2:b[1]}, style:{stroke: major ? '#EBEBEB' : '#F3F3F3', lineWidth: major ? 1.8 : 1}};
     }},
    {type:'custom', z:2, silent:true, progressive:0, data:busyData, encode:{x:[0,1], y:2},
     renderItem:(params, api)=>rectItem(api, COLORS.g)},
    {type:'custom', z:3, silent:true, progressive:0, data:taskData, encode:{x:[0,1], y:2},
     renderItem:(params, api)=>rectItem(api, COLORS[kinds[api.value(3)]])},
    {type:'custom', z:4, silent:true, data:labelData, encode:{y:0},
     renderItem:(params, api)=>{
       const row = api.value(0);
       const p = api.coord([-2900, row]);
       return {type:'text', x:p[0], y:p[1], style:{text: api.value(1).toFixed(2)+'%', fill:'#000', font:'13px '+FONT, textAlign:'left', textVerticalAlign:'middle'}};
     }}
  ]
});
</script></body></html>
